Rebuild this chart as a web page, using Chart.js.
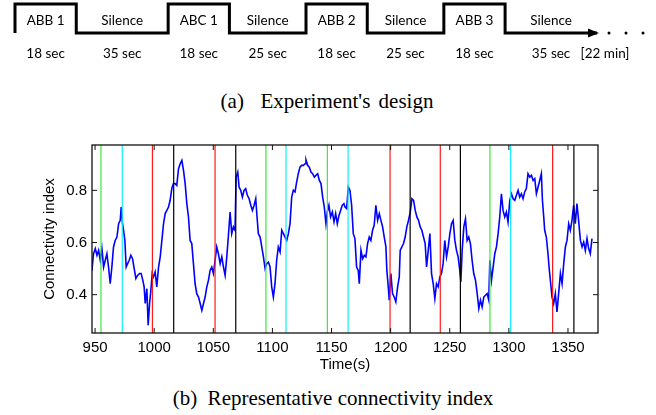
<!DOCTYPE html>
<html>
<head>
<meta charset="utf-8">
<script src="https://cdn.jsdelivr.net/npm/chart.js@4.4.1/dist/chart.umd.min.js"></script>
<style>
  html, body { margin: 0; padding: 0; background: #fff; }
  #page { position: relative; width: 656px; height: 415px; overflow: hidden; }
  canvas { position: absolute; left: 0; }
  #design { top: 0; }
  #conn { top: 130px; }
  .cap { position: absolute; font-family: 'Liberation Serif', 'Times New Roman', serif; font-size: 21px; color: #000; white-space: pre; transform: translate(-50%, -50%); }
</style>
</head>
<body>
<div id="page">
  <canvas id="design" width="656" height="75"></canvas>
  <div class="cap" style="left:327px;top:101px;word-spacing:3px">(a)  Experiment's design</div>
  <canvas id="conn" width="656" height="247"></canvas>
  <div class="cap" style="left:333px;top:398px">(b)  Representative connectivity index</div>
</div>
<script>
// (a) experiment design blocks
const blockNames = ['ABB 1', 'Silence', 'ABC 1', 'Silence', 'ABB 2', 'Silence', 'ABB 3', 'Silence'];
const blockDurations = [18, 35, 18, 25, 18, 25, 18, 35];
const blockLevels = [1, 0, 1, 0, 1, 0, 1, 0];
const sessionLength = '[22 min]';

// (b) connectivity index
const timeSec = [
  947.3, 948.7, 950.2, 951.6, 953.0, 954.4, 955.8, 957.2, 958.6, 960.0,
  961.4, 962.8, 964.2, 965.6, 967.0, 968.5, 969.9, 971.3, 972.1, 973.2,
  974.1, 975.2, 976.3, 977.5, 978.9, 980.3, 981.7, 983.1, 984.5, 985.9,
  987.6, 989.0, 990.4, 991.5, 992.4, 993.8, 994.9, 996.1, 997.2, 998.3,
  999.4, 1000.8, 1002.2, 1003.7, 1005.1, 1006.5, 1007.9, 1009.3, 1010.7, 1012.1,
  1013.5, 1014.9, 1016.3,
  1017.7, 1019.1, 1020.6, 1022.0, 1023.4, 1024.8, 1026.2, 1027.6, 1029.0, 1030.4,
  1031.8, 1033.2, 1034.6, 1036.0, 1037.5, 1038.9, 1040.3, 1041.7, 1043.1, 1044.5,
  1045.9, 1047.3, 1048.7, 1050.1, 1051.5, 1052.9, 1054.3, 1055.8, 1057.2, 1058.6,
  1060.0, 1061.4, 1062.8, 1064.2, 1065.6, 1067.0, 1068.4,
  1069.3, 1070.7, 1071.8, 1073.2, 1074.6, 1076.0, 1077.4, 1078.8, 1080.3, 1081.7,
  1083.1, 1084.5, 1085.9, 1087.0, 1088.1,
  1089.6, 1091.0, 1092.4, 1093.8, 1095.2, 1096.6, 1098.0, 1099.4, 1100.8, 1102.2,
  1103.6, 1105.0, 1106.5, 1107.9, 1109.3, 1110.7, 1112.1, 1113.5, 1114.9, 1116.3,
  1117.7, 1119.1, 1120.5, 1121.9, 1123.3, 1124.7, 1126.2, 1127.6,
  1128.4, 1129.8, 1131.2, 1132.6, 1134.0, 1135.5, 1136.9, 1138.3, 1139.7, 1141.1,
  1142.5, 1143.9, 1145.3,
  1146.4, 1147.8, 1149.2, 1150.7, 1152.1, 1153.5, 1154.9, 1156.3, 1157.7, 1159.1, 1160.5,
  1161.4, 1162.8, 1164.2, 1165.6, 1167.0, 1168.4, 1169.8, 1171.2, 1172.6,
  1173.5, 1174.9, 1176.3, 1177.7, 1179.1, 1180.5, 1181.9, 1183.3, 1184.7, 1186.1,
  1187.5, 1189.0, 1190.4, 1191.8, 1193.2, 1194.6, 1196.0,
  1196.8, 1198.0, 1198.8,
  1200.2, 1201.6, 1203.0, 1204.4, 1205.9, 1207.3,
  1208.1, 1209.5, 1210.9, 1212.3, 1213.7, 1215.1, 1216.6, 1218.0, 1219.4, 1220.8,
  1222.2, 1223.6, 1225.0, 1226.4, 1227.8, 1229.2,
  1230.4, 1231.8,
  1233.2, 1234.6, 1236.0, 1237.4, 1238.8, 1240.2, 1241.6, 1243.0, 1244.4, 1245.8,
  1247.3, 1248.7, 1250.1, 1251.5, 1252.9, 1254.3, 1255.7, 1257.1, 1258.5,
  1259.4,
  1260.5, 1261.9, 1263.3, 1264.7, 1266.1, 1267.5, 1268.9, 1270.3, 1271.8, 1273.2,
  1274.6, 1276.0, 1277.4, 1278.8, 1280.2, 1281.6, 1283.0,
  1283.9, 1285.3, 1286.7, 1288.1, 1289.5, 1290.9, 1292.3, 1293.7, 1295.1, 1296.5,
  1297.9, 1299.3, 1300.8, 1302.2, 1303.6,
  1305.0, 1306.4, 1307.8, 1309.2, 1310.6, 1312.0, 1313.4, 1314.8, 1316.2, 1317.7,
  1319.1, 1320.5, 1321.9, 1323.3, 1324.7, 1326.1, 1327.5,
  1328.4, 1329.5, 1330.3, 1331.7, 1333.1, 1334.0, 1335.4, 1336.5,
  1337.9, 1339.3, 1340.7, 1342.1, 1343.6, 1345.0, 1346.4, 1347.8, 1349.2, 1350.6,
  1352.0, 1353.4, 1354.8,
  1356.2, 1357.6, 1359.0, 1360.5, 1361.9, 1363.3, 1364.7, 1366.1, 1367.5, 1368.9, 1370.3
];
const connIdx = [
  0.491, 0.557, 0.577, 0.551, 0.570, 0.532, 0.577, 0.506, 0.532, 0.557,
  0.506, 0.442, 0.506, 0.583, 0.608, 0.621, 0.672, 0.685, 0.736, 0.672,
  0.647, 0.608, 0.506, 0.519, 0.532, 0.551, 0.538, 0.500, 0.462, 0.474,
  0.481, 0.481, 0.455, 0.430, 0.366, 0.423, 0.283, 0.366, 0.417, 0.481,
  0.468, 0.487, 0.430, 0.506, 0.545, 0.608, 0.672, 0.711, 0.723, 0.736,
  0.762, 0.807, 0.826,
  0.826, 0.819, 0.883, 0.902, 0.915, 0.877, 0.826, 0.749, 0.698, 0.608,
  0.596, 0.519, 0.442, 0.404, 0.391, 0.366, 0.340, 0.366, 0.391, 0.430,
  0.455, 0.493, 0.506, 0.481, 0.532, 0.583, 0.557, 0.519, 0.545, 0.506,
  0.474, 0.545, 0.628, 0.717, 0.634, 0.660, 0.647,
  0.851, 0.870, 0.813, 0.800, 0.774, 0.800, 0.807, 0.781, 0.768, 0.743,
  0.723, 0.743, 0.768, 0.698, 0.634,
  0.621, 0.583, 0.545, 0.500, 0.519, 0.525, 0.506, 0.430, 0.391, 0.442,
  0.532, 0.583, 0.564, 0.647, 0.634, 0.621, 0.608, 0.634, 0.672, 0.774,
  0.800, 0.794, 0.832, 0.864, 0.889, 0.896, 0.896, 0.902,
  0.917, 0.896, 0.889, 0.870, 0.864, 0.851, 0.858, 0.864, 0.838, 0.826,
  0.774, 0.736, 0.672,
  0.717, 0.743, 0.698, 0.717, 0.679, 0.711, 0.672, 0.704, 0.723, 0.743, 0.749,
  0.736, 0.730, 0.813, 0.800, 0.743, 0.634, 0.615, 0.506, 0.493,
  0.442, 0.570, 0.538, 0.551, 0.545, 0.596, 0.621, 0.608, 0.647, 0.666,
  0.743, 0.685, 0.711, 0.685, 0.660, 0.621, 0.583,
  0.493, 0.430, 0.379,
  0.481, 0.404, 0.391, 0.372, 0.430, 0.468,
  0.570, 0.583, 0.596, 0.621, 0.660, 0.685, 0.717, 0.768, 0.762, 0.723,
  0.698, 0.685, 0.660, 0.647, 0.621, 0.596,
  0.506, 0.570,
  0.634, 0.481, 0.442, 0.385, 0.442, 0.430, 0.468, 0.481, 0.519, 0.608,
  0.545, 0.583, 0.634, 0.672, 0.685, 0.608, 0.570, 0.545, 0.493,
  0.449,
  0.570, 0.660, 0.691, 0.608, 0.621, 0.596, 0.532, 0.481, 0.455, 0.404,
  0.347, 0.379, 0.353, 0.391, 0.398, 0.404, 0.379,
  0.532, 0.455, 0.506, 0.557, 0.583, 0.634, 0.698, 0.787, 0.723, 0.698,
  0.717, 0.679, 0.762, 0.787, 0.768,
  0.762, 0.781, 0.800, 0.774, 0.787, 0.768, 0.794, 0.807, 0.864, 0.851,
  0.858, 0.838, 0.845, 0.787, 0.813, 0.838, 0.864,
  0.762, 0.698, 0.647, 0.621, 0.557, 0.506, 0.442, 0.391,
  0.366, 0.404, 0.334, 0.404, 0.481, 0.442, 0.519, 0.583, 0.608, 0.672,
  0.647, 0.685, 0.743,
  0.672, 0.749, 0.685, 0.608, 0.583, 0.602, 0.570, 0.615, 0.577, 0.557, 0.615
];

// stimulus onsets / offsets (s)
const abbStart = [955, 1094.5, 1146.5, 1284];
const abbEnd = [973, 1111.5, 1164, 1301.5];
const abcStart = [998.5, 1051.5, 1199.5, 1242, 1337];
const abcEnd = [1016.5, 1069, 1216.5, 1259, 1355];

const xTicks = [950, 1000, 1050, 1100, 1150, 1200, 1250, 1300, 1350];
const yTicks = [0.4, 0.6, 0.8];

// ---------- (a) design timeline ----------
const spanOf = { 18: 2, 25: 2.5, 35: 3 }; // schematic length per block
let cursor = 0;
const wave = [{ x: 0, y: 0 }];
const blockMid = [];
blockDurations.forEach((d, i) => {
  const w = spanOf[d];
  wave.push({ x: cursor, y: blockLevels[i] }, { x: cursor + w, y: blockLevels[i] });
  blockMid.push(cursor + w / 2);
  cursor += w;
});

const designLabels = {
  id: 'designLabels',
  afterDatasetsDraw(chart) {
    const { ctx, scales: { x, y } } = chart;
    const low = y.getPixelForValue(0);
    ctx.save();
    ctx.font = '13.5px Lato, "Open Sans", sans-serif';
    ctx.fillStyle = '#000';
    ctx.textAlign = 'center';
    ctx.textBaseline = 'middle';
    blockNames.forEach((name, i) => {
      const cx = x.getPixelForValue(blockMid[i]);
      ctx.fillText(name, cx, low - 12);
      ctx.fillText(blockDurations[i] + ' sec', cx, low + 21);
    });
    const pts = chart.getDatasetMeta(0).data;
    const end = pts[pts.length - 1];
    const tx = end.x + 2;
    ctx.beginPath();
    ctx.moveTo(tx, end.y);
    ctx.lineTo(tx - 11, end.y - 4.5);
    ctx.lineTo(tx - 11, end.y + 4.5);
    ctx.closePath();
    ctx.fill();
    [10, 27, 44].forEach(dx => {
      ctx.beginPath();
      ctx.arc(tx + dx, end.y, 1.5, 0, Math.PI * 2);
      ctx.fill();
    });
    ctx.fillText(sessionLength, tx + 6, low + 21);
    ctx.restore();
  }
};

new Chart(document.getElementById('design'), {
  type: 'line',
  data: {
    datasets: [{
      data: wave,
      borderColor: '#000',
      borderWidth: 3,
      pointRadius: 0,
      borderJoinStyle: 'miter',
      clip: false
    }]
  },
  options: {
    responsive: false,
    animation: false,
    devicePixelRatio: 1,
    layout: { padding: { left: 15, right: 59, top: 4, bottom: 42 } },
    plugins: { legend: { display: false }, tooltip: { enabled: false } },
    scales: {
      x: { type: 'linear', display: false, min: 0, max: cursor },
      y: { display: false, min: 0, max: 1 }
    }
  },
  plugins: [designLabels]
});

// ---------- (b) connectivity index ----------
const axisFont = { family: '"Liberation Sans", Arial, sans-serif', size: 15 };

const frame = {
  id: 'frame',
  afterDatasetsDraw(chart) {
    const { ctx, chartArea: a, scales: { x, y } } = chart;
    ctx.save();
    const marks = [[abbStart, '#33ee33'], [abbEnd, '#11eeff'], [abcStart, '#ff1a1a'], [abcEnd, '#000']];
    ctx.lineWidth = 1.2;
    marks.forEach(([times, color]) => {
      ctx.strokeStyle = color;
      times.forEach(t => {
        const px = x.getPixelForValue(t);
        ctx.beginPath();
        ctx.moveTo(px, a.top);
        ctx.lineTo(px, a.bottom);
        ctx.stroke();
      });
    });
    ctx.strokeStyle = '#111';
    ctx.lineWidth = 1.3;
    ctx.strokeRect(a.left, a.top, a.right - a.left, a.bottom - a.top);
    ctx.lineWidth = 1;
    ctx.beginPath();
    xTicks.forEach(v => {
      const px = x.getPixelForValue(v);
      ctx.moveTo(px, a.bottom); ctx.lineTo(px, a.bottom - 5);
      ctx.moveTo(px, a.top); ctx.lineTo(px, a.top + 5);
    });
    yTicks.forEach(v => {
      const py = y.getPixelForValue(v);
      ctx.moveTo(a.left, py); ctx.lineTo(a.left + 5, py);
      ctx.moveTo(a.right, py); ctx.lineTo(a.right - 5, py);
    });
    ctx.stroke();
    ctx.restore();
  }
};

new Chart(document.getElementById('conn'), {
  type: 'line',
  data: {
    datasets: [{
      data: timeSec.map((t, i) => ({ x: t, y: connIdx[i] })),
      borderColor: '#0000ff',
      borderWidth: 1.6,
      pointRadius: 0,
      tension: 0
    }]
  },
  options: {
    responsive: false,
    animation: false,
    devicePixelRatio: 1,
    layout: { padding: { left: 0, right: 58, top: 15, bottom: 0 } },
    plugins: { legend: { display: false }, tooltip: { enabled: false } },
    scales: {
      x: {
        type: 'linear', min: 947.4, max: 1375.4,
        afterBuildTicks: s => { s.ticks = xTicks.map(v => ({ value: v })); },
        afterFit: s => { s.height = 44; },
        grid: { display: false, drawTicks: false },
        border: { display: false },
        ticks: { color: '#000', font: axisFont, padding: 6, maxRotation: 0, autoSkip: false, callback: v => String(v) },
        title: { display: true, text: 'Time(s)', color: '#000', font: axisFont, padding: { top: 0, bottom: 3 } }
      },
      y: {
        type: 'linear', min: 0.253, max: 0.974,
        afterBuildTicks: s => { s.ticks = yTicks.map(v => ({ value: v })); },
        afterFit: s => { s.width = 92; },
        grid: { display: false, drawTicks: false },
        border: { display: false },
        ticks: { color: '#000', font: axisFont, padding: 5, callback: v => v.toFixed(1) },
        title: { display: true, text: 'Connectivity index', color: '#000', font: axisFont, padding: { top: 41, bottom: 0 } }
      }
    }
  },
  plugins: [frame]
});
</script>
</body>
</html>
